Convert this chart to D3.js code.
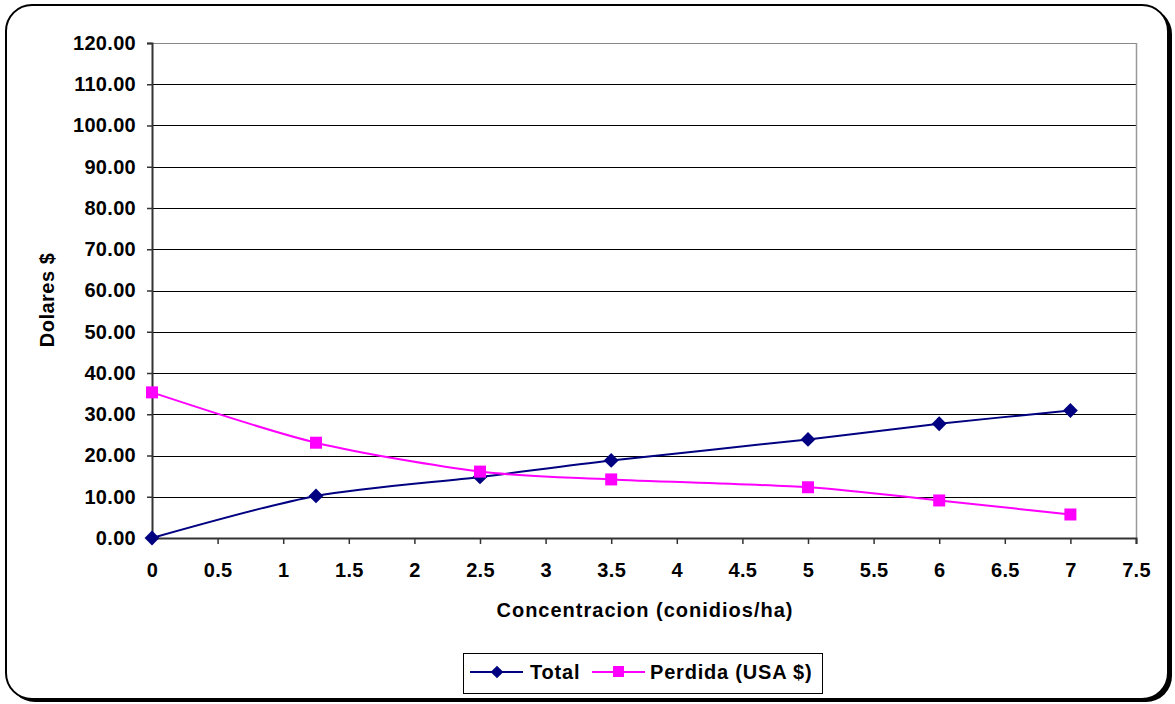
<!DOCTYPE html>
<html>
<head>
<meta charset="utf-8">
<script src="https://cdn.jsdelivr.net/npm/d3@7"></script>
<style>
  html, body { margin: 0; padding: 0; background: #fff; }
  svg text { font-family: "Liberation Sans", Arial, sans-serif; font-weight: bold; fill: #000; }
</style>
</head>
<body>
<svg id="chart" width="1175" height="704"></svg>
<script>
// Concentration (conidia/ha) at each sampled dose
const concentracion = [0, 1.25, 2.5, 3.5, 5, 6, 7];
// Series values in dollars
const total = [0, 10.2, 14.8, 18.8, 23.9, 27.7, 30.9];
const perdida = [35.3, 23.1, 16.1, 14.2, 12.3, 9.1, 5.7];
// Axis tick values
const xTicks = [0, 0.5, 1, 1.5, 2, 2.5, 3, 3.5, 4, 4.5, 5, 5.5, 6, 6.5, 7, 7.5];
const yTicks = [0, 10, 20, 30, 40, 50, 60, 70, 80, 90, 100, 110, 120];

const svg = d3.select("#chart");
const FONT = "'Liberation Sans', Arial, sans-serif";

// Rounded frame with a drop shadow on the right and bottom
svg.append("rect").attr("x", 9).attr("y", 8).attr("width", 1163).attr("height", 694)
  .attr("rx", 26).attr("fill", "#000");
svg.append("rect").attr("x", 6).attr("y", 5).attr("width", 1162).attr("height", 694)
  .attr("rx", 26).attr("fill", "#fff").attr("stroke", "#000").attr("stroke-width", 2);

const plot = { left: 152, right: 1136, top: 43, bottom: 538 };
const x = d3.scaleLinear().domain([0, 7.5]).range([plot.left, plot.right]);
const y = d3.scaleLinear().domain([0, 120]).range([plot.bottom, plot.top]);

// Horizontal gridlines
svg.append("g").selectAll("line").data(yTicks.filter(d => d > 0)).join("line")
  .attr("x1", plot.left).attr("x2", plot.right)
  .attr("y1", d => Math.round(y(d)) + 0.5).attr("y2", d => Math.round(y(d)) + 0.5)
  .attr("stroke", d => d === 120 ? "#888" : "#000").attr("stroke-width", 1);

// Plot-area right border
svg.append("line").attr("x1", plot.right + 0.5).attr("x2", plot.right + 0.5)
  .attr("y1", plot.top).attr("y2", plot.bottom).attr("stroke", "#999").attr("stroke-width", 1.5);

// Y axis
const yAxis = d3.axisLeft(y).tickValues(yTicks).tickSize(5).tickPadding(11)
  .tickFormat(d3.format(".2f"));
const gy = svg.append("g").attr("transform", `translate(${plot.left},0)`).call(yAxis);
gy.select(".domain").attr("stroke", "#333").attr("stroke-width", 2);
gy.selectAll(".tick line").attr("stroke", "#333").attr("stroke-width", 1.5);
gy.selectAll(".tick text").attr("font-size", 20).attr("fill", "#000")
  .attr("font-family", FONT).attr("font-weight", "bold").attr("letter-spacing", 0.3);

// X axis
const xAxis = d3.axisBottom(x).tickValues(xTicks).tickSize(6).tickPadding(19)
  .tickFormat(d => d3.format("")(d));
const gx = svg.append("g").attr("transform", `translate(0,${plot.bottom})`).call(xAxis);
gx.select(".domain").attr("stroke", "#333").attr("stroke-width", 2);
gx.selectAll(".tick line").attr("stroke", "#333").attr("stroke-width", 1.5);
gx.selectAll(".tick text").attr("font-size", 20).attr("fill", "#000")
  .attr("font-family", FONT).attr("font-weight", "bold").attr("letter-spacing", 0.3);

// Axis titles
svg.append("text").attr("x", 645).attr("y", 617).attr("text-anchor", "middle")
  .attr("font-size", 20).attr("letter-spacing", 1).text("Concentracion (conidios/ha)");
svg.append("text").attr("transform", "translate(54,300) rotate(-90)")
  .attr("text-anchor", "middle").attr("font-size", 20).attr("letter-spacing", 0.5).text("Dolares $");

// Series
const line = d3.line().curve(d3.curveCardinal.tension(0.2))
  .x(d => x(d[0])).y(d => y(d[1]));
const seriesTotal = concentracion.map((c, i) => [c, total[i]]);
const seriesPerdida = concentracion.map((c, i) => [c, perdida[i]]);

const navy = "#000080", magenta = "#FF00FF";

svg.append("path").datum(seriesTotal).attr("d", line)
  .attr("fill", "none").attr("stroke", navy).attr("stroke-width", 2);
svg.append("path").datum(seriesPerdida).attr("d", line)
  .attr("fill", "none").attr("stroke", magenta).attr("stroke-width", 2);

// Diamond markers for Total, square markers for Perdida
svg.append("g").selectAll("path").data(seriesTotal).join("path")
  .attr("d", d3.symbol().type(d3.symbolSquare).size(110))
  .attr("transform", d => `translate(${x(d[0])},${y(d[1])}) rotate(45)`)
  .attr("fill", navy);
svg.append("g").selectAll("rect").data(seriesPerdida).join("rect")
  .attr("x", d => x(d[0]) - 6).attr("y", d => y(d[1]) - 6)
  .attr("width", 12).attr("height", 12).attr("fill", magenta);

// Legend
const lg = svg.append("g");
lg.append("rect").attr("x", 463.5).attr("y", 653.5).attr("width", 359).attr("height", 40)
  .attr("fill", "#fff").attr("stroke", "#000").attr("stroke-width", 1);
lg.append("line").attr("x1", 470).attr("x2", 523).attr("y1", 672).attr("y2", 672)
  .attr("stroke", navy).attr("stroke-width", 2);
lg.append("path").attr("d", d3.symbol().type(d3.symbolSquare).size(80))
  .attr("transform", "translate(497,672) rotate(45)").attr("fill", navy);
lg.append("text").attr("x", 530).attr("y", 679).attr("font-size", 20).attr("letter-spacing", 0.8).text("Total");
lg.append("line").attr("x1", 592).attr("x2", 645).attr("y1", 672).attr("y2", 672)
  .attr("stroke", magenta).attr("stroke-width", 2);
lg.append("rect").attr("x", 613).attr("y", 666).attr("width", 11).attr("height", 11).attr("fill", magenta);
lg.append("text").attr("x", 650).attr("y", 679).attr("font-size", 20).attr("letter-spacing", 0.8).text("Perdida (USA $)");
</script>
</body>
</html>
